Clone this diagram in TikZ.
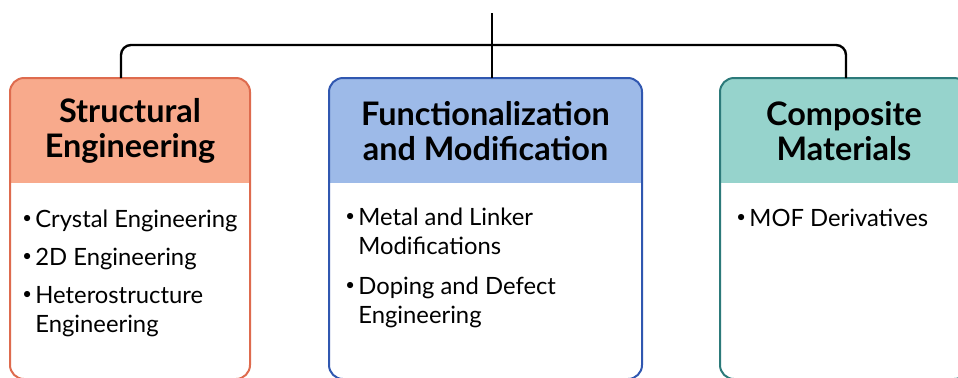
\documentclass[tikz,border=0pt]{standalone}
\usepackage{fontspec}
\setmainfont{Lato}
\usepackage{tikz}
\usetikzlibrary{positioning}
\definecolor{structline}{HTML}{DE6B4E}
\definecolor{structfill}{HTML}{F8AA8C}
\definecolor{funcline}{HTML}{3057B0}
\definecolor{funcfill}{HTML}{9DBAE8}
\definecolor{compline}{HTML}{2C7A7A}
\definecolor{compfill}{HTML}{96D3CC}
\newcommand{\bul}{\makebox[6.5pt][l]{\raisebox{0.3ex}{\scalebox{0.7}{\textbullet}}}}
\newcommand{\ind}{\hspace*{6.5pt}}

\begin{document}
\begin{tikzpicture}[x=0.5pt,y=-0.5pt]
\tikzset{
head/.style={minimum height=52.5pt,inner sep=0pt,align=center,anchor=north,
  font=\fontsize{16.2}{17.5}\selectfont\bfseries},
body/.style={align=left,inner sep=0pt,anchor=base west,
  font=\fontsize{11.9}{14.5}\selectfont},
frame/.style={line width=1pt,rounded corners=7pt},
tree/.style={line width=1.2pt,rounded corners=5pt}}
\useasboundingbox (0,0) rectangle (958,377);

% three boxes: white body, coloured header clipped to the rounded outline
\fill[white,rounded corners=7pt] (10,78) rectangle (250,379);
\begin{scope}
\clip[rounded corners=7pt] (10,78) rectangle (250,379);
\node[head,fill=structfill,minimum width=120pt] (sHead) at (130,78) {Structural\\Engineering};
\end{scope}
\draw[frame,structline] (10,78) rectangle (250,379);

\fill[white,rounded corners=7pt] (329,78) rectangle (642,379);
\begin{scope}
\clip[rounded corners=7pt] (329,78) rectangle (642,379);
\node[head,fill=funcfill,minimum width=156.5pt] (fHead) at (485.5,78) {Functionalization\\and Modification};
\end{scope}
\draw[frame,funcline] (329,78) rectangle (642,379);

\fill[white,rounded corners=7pt] (720,78) rectangle (968,379);
\begin{scope}
\clip[rounded corners=7pt] (720,78) rectangle (968,379);
\node[head,fill=compfill,minimum width=124pt] (cHead) at (844,78) {Composite\\Materials};
\end{scope}
\draw[frame,compline] (720,78) rectangle (968,379);

% bullet lists (base anchor sits on the last line)
\node[body] (sList) at (22,332) {\bul Crystal Engineering\\[4.5pt]
  \bul 2D Engineering\\[4.5pt]
  \bul Heterostructure\\
  \ind Engineering};
\node[body] (fList) at (345,323) {\bul Metal and Linker\\
  \ind Modifications\\[5.5pt]
  \bul Doping and Defect\\
  \ind Engineering};
\node[body] (cList) at (736,226) {\bul MOF Derivatives};

% tree connectors
\coordinate (root) at (492,13);
\coordinate (bar) at (492,45);
\draw[tree] (root) -- ([xshift=3.25pt]fHead.north);
\draw[tree] ([xshift=-4.5pt]sHead.north) |- (bar) -| ([xshift=1pt]cHead.north);
\end{tikzpicture}
\end{document}
